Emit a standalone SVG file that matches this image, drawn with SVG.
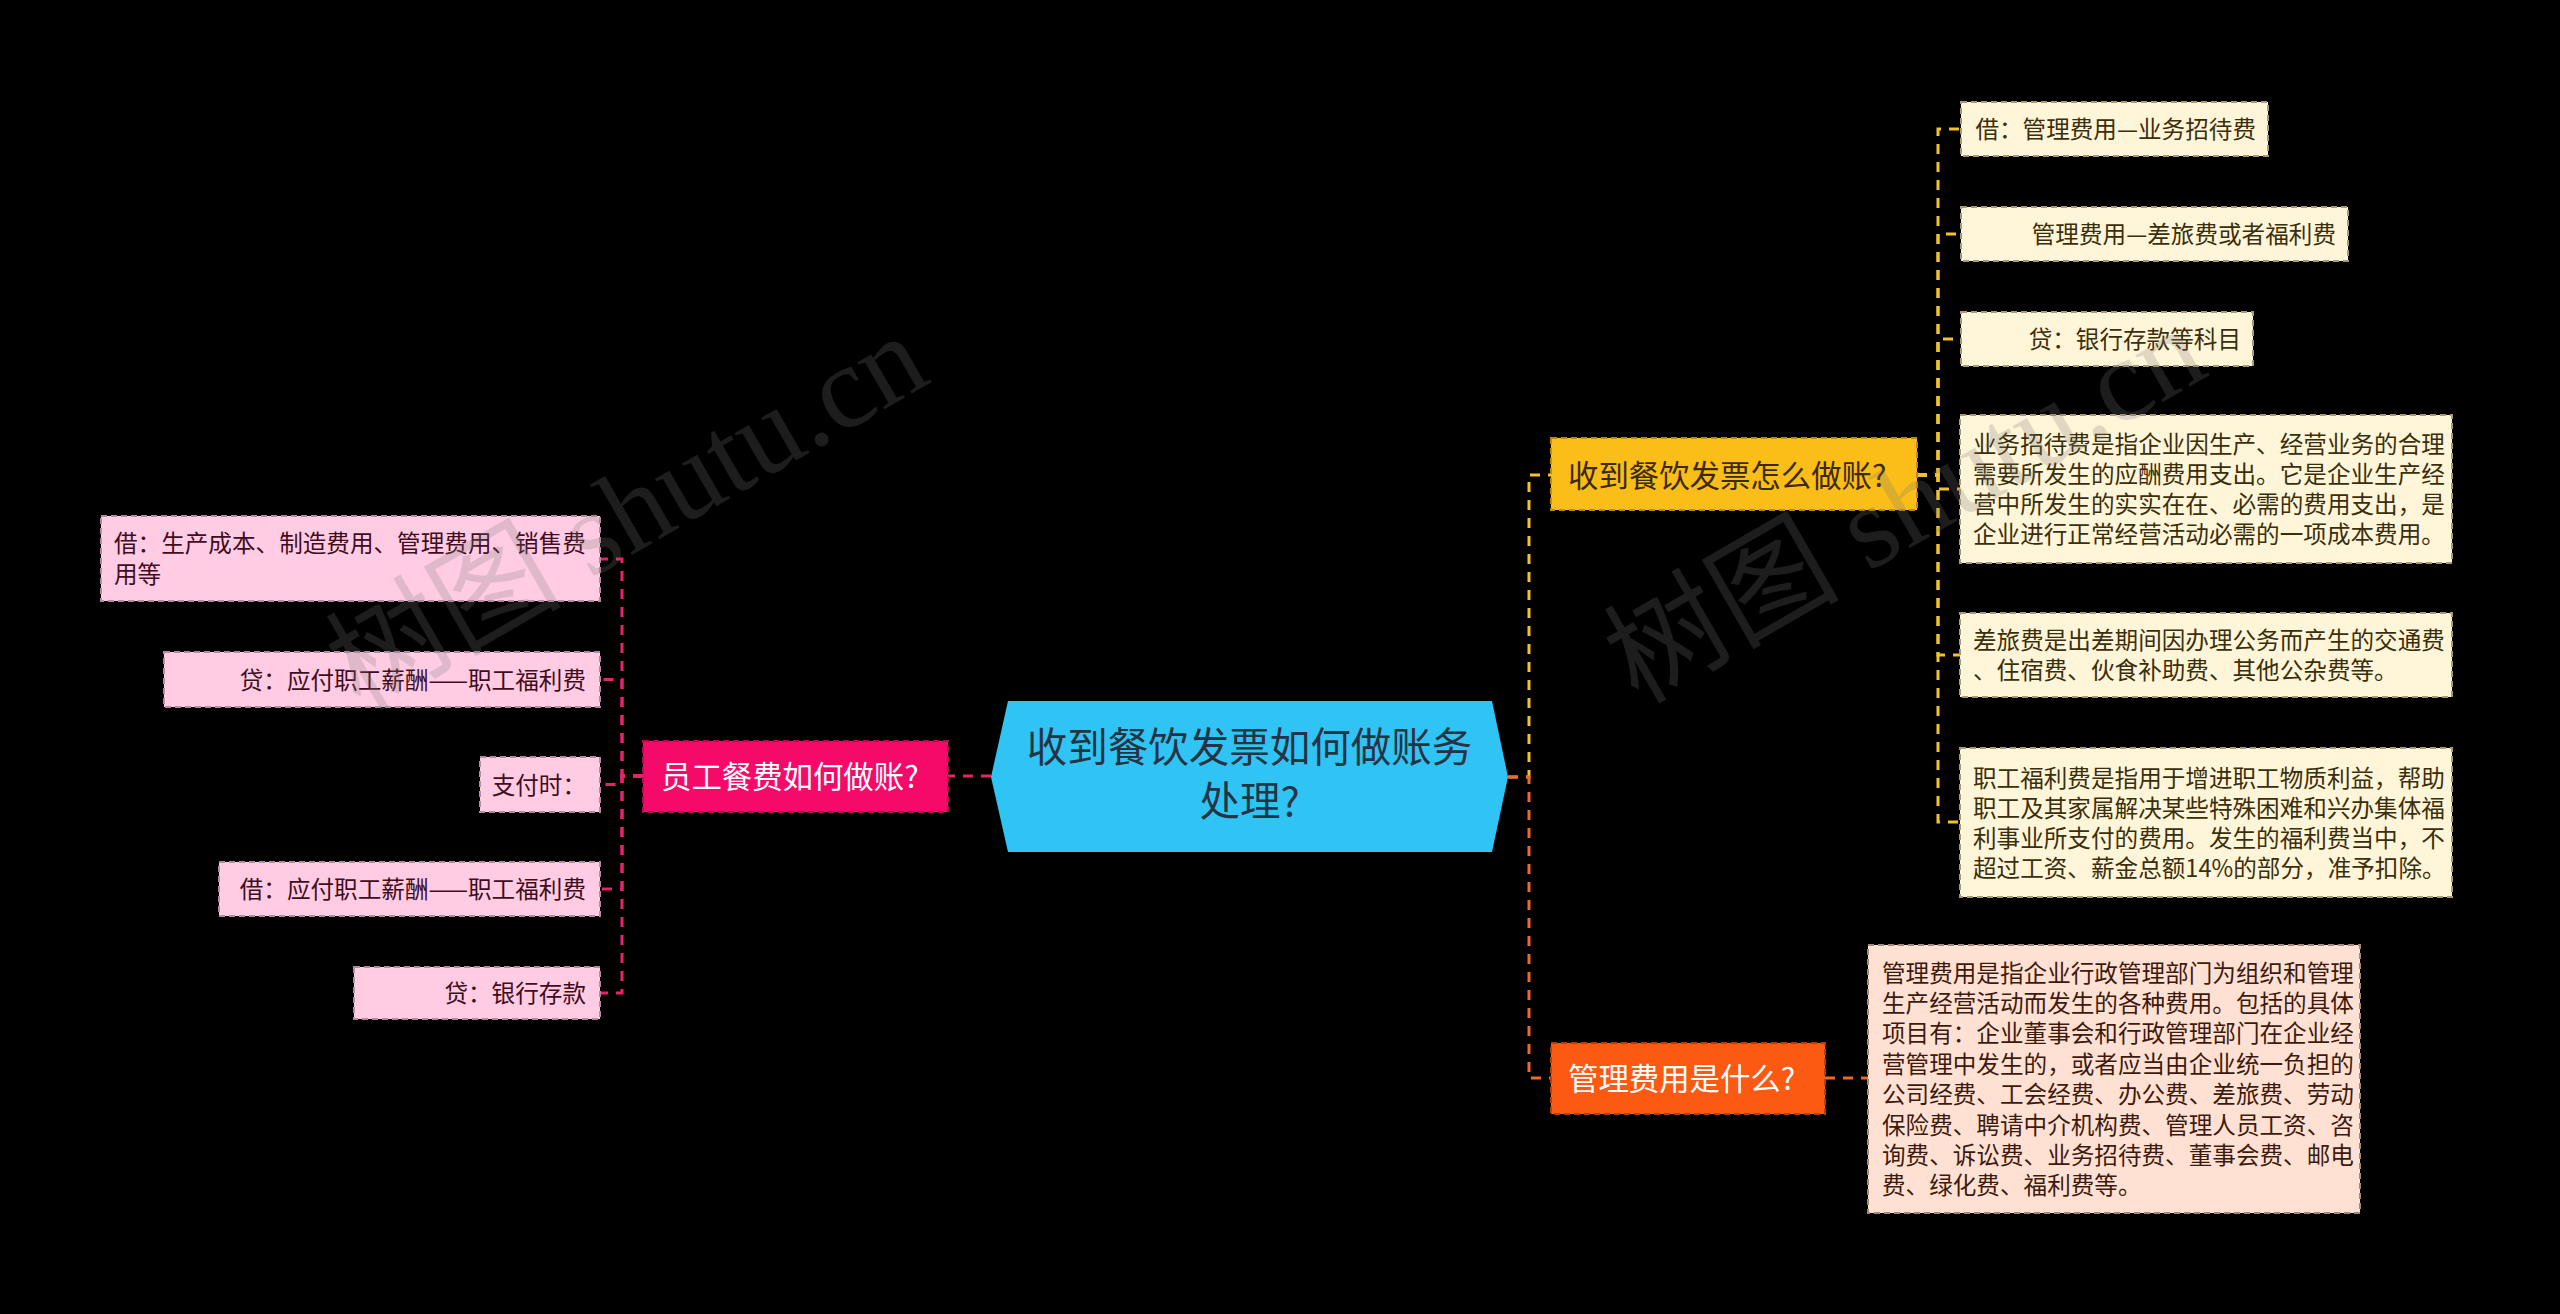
<svg xmlns="http://www.w3.org/2000/svg" width="2560" height="1314" viewBox="0 0 2560 1314">
<style>
text{font-family:"Noto Sans CJK SC","Noto Sans",sans-serif}
.conn{fill:none;stroke-width:3;stroke-dasharray:10 8}
.cp{stroke:#E8236C}
.cy{stroke:#F2C12E}
.co{stroke:#F0692A}
.leaf{font-size:23.6px}
.pl{fill:#FFCCE3;stroke:#B68A9E;stroke-width:2;stroke-dasharray:6 4}
.yl{fill:#FFF5D8;stroke:#A89A72;stroke-width:2;stroke-dasharray:6 4}
.ol{fill:#FFE1D3;stroke:#A88878;stroke-width:2;stroke-dasharray:6 4}
.pt{fill:#3F0D22}
.yt{fill:#3A2F0C}
.ot{fill:#3D1A0E}
.br{font-size:30.4px}
.wm{font-family:"Liberation Serif","Noto Sans CJK SC",serif;font-size:118px;fill:#7a7a7a;fill-opacity:0.24}
</style>
<rect x="0" y="0" width="2560" height="1314" fill="#000"/>

<g id="connectors">
  <path class="conn cp" d="M991 776 H948"/>
  <path class="conn cp" d="M643 776 H622 V559 H600"/>
  <path class="conn cp" d="M643 776 H622 V679.5 H600"/>
  <path class="conn cp" d="M643 776 H622 V784.5 H600"/>
  <path class="conn cp" d="M643 776 H622 V889 H600"/>
  <path class="conn cp" d="M643 776 H622 V993 H600"/>
  <path class="conn cy" d="M1508 777 H1529 V475 H1551"/>
  <path class="conn co" d="M1508 777 H1529 V1078 H1551"/>
  <path class="conn cy" d="M1917 475 H1938 V129 H1961"/>
  <path class="conn cy" d="M1917 475 H1938 V234 H1961"/>
  <path class="conn cy" d="M1917 475 H1938 V339 H1961"/>
  <path class="conn cy" d="M1917 475 H1938 V489 H1960"/>
  <path class="conn cy" d="M1917 475 H1938 V655 H1960"/>
  <path class="conn cy" d="M1917 475 H1938 V822 H1960"/>
  <path class="conn co" d="M1825 1078 H1868"/>
</g>

<g id="center">
  <polygon points="991,777 1008,701 1492,701 1508,777 1492,852 1008,852" fill="#2FC4F3"/>
  <text x="1249.5" y="762" font-size="40.5" fill="#253444" text-anchor="middle">收到餐饮发票如何做账务</text>
  <text x="1249.5" y="816" font-size="40.5" fill="#253444" text-anchor="middle">处理?</text>
</g>

<g id="branch-pink">
  <rect x="643" y="741" width="305" height="71" fill="#F50A6A" stroke="#B0104E" stroke-width="2" stroke-dasharray="6 4"/>
  <text class="br" x="661" y="787.5" fill="#FFFFFF">员工餐费如何做账?</text>
</g>
<g id="leaf-p1">
  <rect class="pl" x="101" y="516" width="499" height="85"/>
  <text class="leaf pt" x="114" y="552">借：生产成本、制造费用、管理费用、销售费</text>
  <text class="leaf pt" x="114" y="582.5">用等</text>
</g>
<g id="leaf-p2">
  <rect class="pl" x="164" y="652" width="436" height="55"/>
  <text class="leaf pt" x="586" y="688.5" text-anchor="end">贷：应付职工薪酬——职工福利费</text>
</g>
<g id="leaf-p3">
  <rect class="pl" x="480" y="757" width="120" height="55"/>
  <text class="leaf pt" x="586" y="793.5" text-anchor="end">支付时：</text>
</g>
<g id="leaf-p4">
  <rect class="pl" x="219" y="862" width="381" height="54"/>
  <text class="leaf pt" x="586" y="898" text-anchor="end">借：应付职工薪酬——职工福利费</text>
</g>
<g id="leaf-p5">
  <rect class="pl" x="354" y="967" width="246" height="52"/>
  <text class="leaf pt" x="586" y="1002" text-anchor="end">贷：银行存款</text>
</g>

<g id="branch-yellow">
  <rect x="1551" y="438" width="366" height="72" fill="#FBBD17" stroke="#B88A0E" stroke-width="2" stroke-dasharray="6 4"/>
  <text class="br" x="1568" y="486.5" fill="#3A2A05">收到餐饮发票怎么做账?</text>
</g>
<g id="leaf-y1">
  <rect class="yl" x="1961" y="102" width="307" height="54"/>
  <text class="leaf yt" x="2256" y="138" text-anchor="end">借：管理费用—业务招待费</text>
</g>
<g id="leaf-y2">
  <rect class="yl" x="1961" y="207" width="387" height="54"/>
  <text class="leaf yt" x="2336" y="243" text-anchor="end">管理费用—差旅费或者福利费</text>
</g>
<g id="leaf-y3">
  <rect class="yl" x="1961" y="312" width="292" height="54"/>
  <text class="leaf yt" x="2241" y="348" text-anchor="end">贷：银行存款等科目</text>
</g>
<g id="leaf-y4">
  <rect class="yl" x="1960" y="415" width="492" height="148"/>
  <text class="leaf yt" x="1973" y="453">业务招待费是指企业因生产、经营业务的合理</text>
  <text class="leaf yt" x="1973" y="483">需要所发生的应酬费用支出。它是企业生产经</text>
  <text class="leaf yt" x="1973" y="513">营中所发生的实实在在、必需的费用支出，是</text>
  <text class="leaf yt" x="1973" y="543">企业进行正常经营活动必需的一项成本费用。</text>
</g>
<g id="leaf-y5">
  <rect class="yl" x="1960" y="613" width="492" height="84"/>
  <text class="leaf yt" x="1973" y="649">差旅费是出差期间因办理公务而产生的交通费</text>
  <text class="leaf yt" x="1973" y="679">、住宿费、伙食补助费、其他公杂费等。</text>
</g>
<g id="leaf-y6">
  <rect class="yl" x="1960" y="748" width="492" height="149"/>
  <text class="leaf yt" x="1973" y="786.5">职工福利费是指用于增进职工物质利益，帮助</text>
  <text class="leaf yt" x="1973" y="816.5">职工及其家属解决某些特殊困难和兴办集体福</text>
  <text class="leaf yt" x="1973" y="846.5">利事业所支付的费用。发生的福利费当中，不</text>
  <text class="leaf yt" x="1973" y="876.5">超过工资、薪金总额14%的部分，准予扣除。</text>
</g>

<g id="branch-orange">
  <rect x="1551" y="1043" width="274" height="71" fill="#FC5A12" stroke="#B43E08" stroke-width="2" stroke-dasharray="6 4"/>
  <text class="br" x="1568" y="1089.5" fill="#FFFFFF">管理费用是什么?</text>
</g>
<g id="leaf-o1">
  <rect class="ol" x="1868" y="945" width="492" height="268"/>
  <text class="leaf ot" x="1882" y="981.6">管理费用是指企业行政管理部门为组织和管理</text>
  <text class="leaf ot" x="1882" y="1012">生产经营活动而发生的各种费用。包括的具体</text>
  <text class="leaf ot" x="1882" y="1042.4">项目有：企业董事会和行政管理部门在企业经</text>
  <text class="leaf ot" x="1882" y="1072.8">营管理中发生的，或者应当由企业统一负担的</text>
  <text class="leaf ot" x="1882" y="1103.2">公司经费、工会经费、办公费、差旅费、劳动</text>
  <text class="leaf ot" x="1882" y="1133.6">保险费、聘请中介机构费、管理人员工资、咨</text>
  <text class="leaf ot" x="1882" y="1164">询费、诉讼费、业务招待费、董事会费、邮电</text>
  <text class="leaf ot" x="1882" y="1194.4">费、绿化费、福利费等。</text>
</g>

<g id="watermarks">
  <text class="wm" x="360" y="712" transform="rotate(-30 360 712)">树图 shutu.cn</text>
  <text class="wm" x="1638" y="705" transform="rotate(-30 1638 705)">树图 shutu.cn</text>
</g>
</svg>
